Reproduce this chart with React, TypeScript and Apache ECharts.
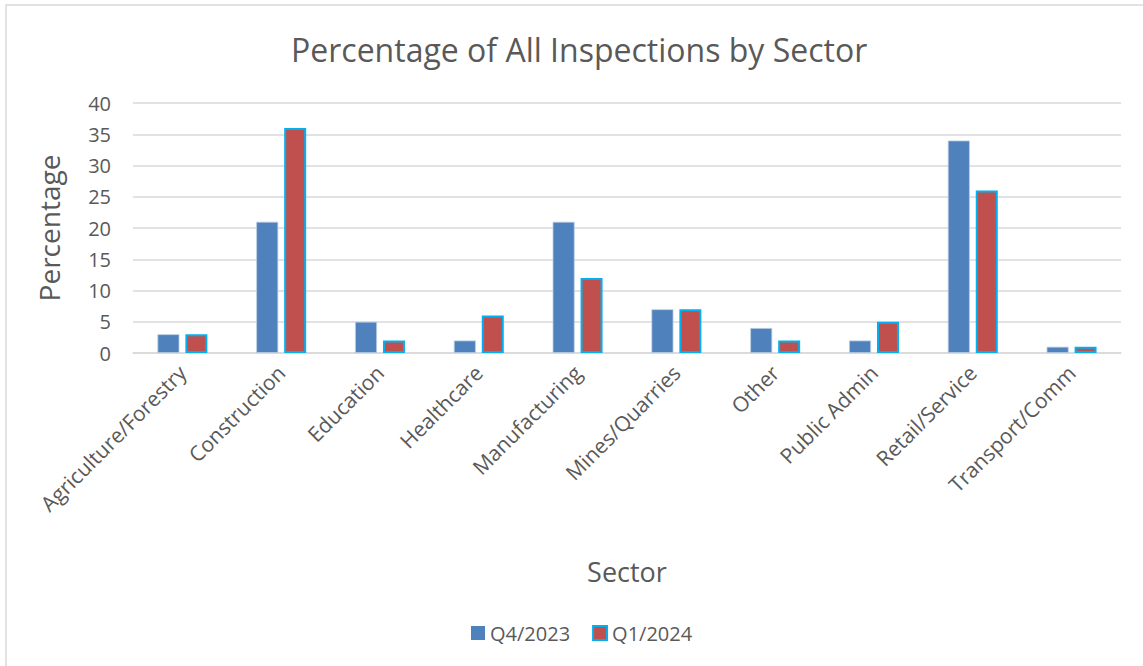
import React, { useEffect, useRef } from "react";
import * as echarts from "echarts";

const categories = [
  "Agriculture/Forestry",
  "Construction",
  "Education",
  "Healthcare",
  "Manufacturing",
  "Mines/Quarries",
  "Other",
  "Public Admin",
  "Retail/Service",
  "Transport/Comm",
];
const q4_2023 = [3, 21, 5, 2, 21, 7, 4, 2, 34, 1];
const q1_2024 = [3, 36, 2, 6, 12, 7, 2, 5, 26, 1];
const yTicks = [0, 5, 10, 15, 20, 25, 30, 35, 40];

const FONT = "'Open Sans', 'Noto Sans', sans-serif";
const TXT = "#595959";

export default function App() {
  const ref = useRef<HTMLDivElement>(null);
  useEffect(() => {
    document.body.style.margin = "0";
    const chart = echarts.init(ref.current!, null, { renderer: "svg" });
    chart.setOption({
      animation: false,
      backgroundColor: "#ffffff",
      textStyle: { fontFamily: FONT },
      title: {
        text: "Percentage of All Inspections by Sector",
        left: 286,
        top: 28,
        textStyle: { fontFamily: FONT, fontSize: 32, fontWeight: "normal", color: TXT },
      },
      graphic: [
        {
          type: "rect",
          shape: { x: 6, y: 5, width: 1300, height: 800 },
          style: { fill: "none", stroke: "#d9d9d9", lineWidth: 1.5 },
          silent: true,
          z: -10,
        },
      ],
      legend: {
        bottom: 18,
        left: 466,
        itemWidth: 14,
        itemHeight: 14,
        itemGap: 22,
        icon: "rect",
        textStyle: { fontFamily: FONT, fontSize: 20, color: TXT },
        data: [
          { name: "Q4/2023", itemStyle: { borderWidth: 0 } },
          { name: "Q1/2024" },
        ],
      },
      grid: { left: 133, right: 22, top: 103, bottom: 313 },
      xAxis: {
        type: "category",
        data: categories,
        name: "Sector",
        nameLocation: "middle",
        nameGap: 205,
        nameTextStyle: { fontFamily: FONT, fontSize: 27, color: TXT },
        axisLine: { lineStyle: { color: "#d9d9d9", width: 1.5 } },
        axisTick: { show: false },
        axisLabel: {
          rotate: 45,
          interval: 0,
          margin: 16,
          fontFamily: FONT,
          fontSize: 21,
          color: TXT,
        },
      },
      yAxis: {
        type: "value",
        min: 0,
        max: 40,
        interval: 5,
        name: "Percentage",
        nameLocation: "middle",
        nameGap: 70,
        nameTextStyle: { fontFamily: FONT, fontSize: 28, color: TXT },
        axisLine: { show: false },
        axisTick: { show: false },
        axisLabel: {
          margin: 22,
          fontFamily: FONT,
          fontSize: 20,
          color: TXT,
          formatter: (v: number) => (yTicks.includes(v) ? String(v) : ""),
        },
        splitLine: { lineStyle: { color: "#d9d9d9", width: 1.5 } },
      },
      series: [
        {
          name: "Q4/2023",
          type: "bar",
          data: q4_2023,
          barWidth: 22,
          barGap: "27%",
          itemStyle: { color: "#4f81bd", borderColor: "#b9cde5", borderWidth: 0.8 },
        },
        {
          name: "Q1/2024",
          type: "bar",
          data: q1_2024,
          barWidth: 22,
          itemStyle: { color: "#c0504d", borderColor: "#00b0f0", borderWidth: 2 },
        },
      ],
    });
    return () => chart.dispose();
  }, []);
  return <div ref={ref} style={{ width: 1143, height: 666 }} />;
}
